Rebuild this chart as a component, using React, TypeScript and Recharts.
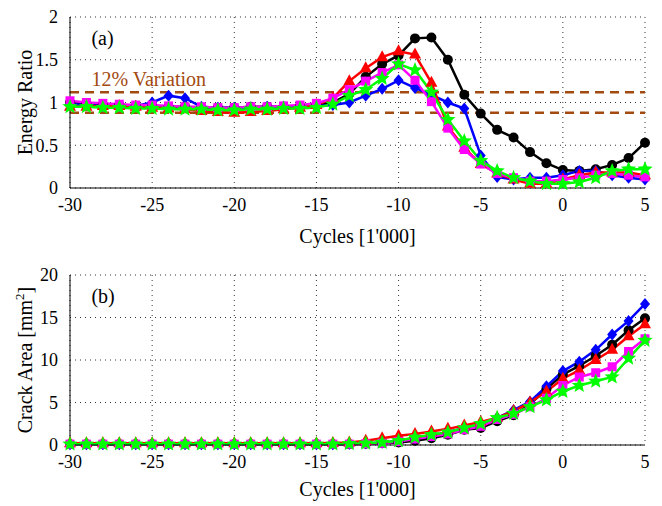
import React from 'react';
import {
  ComposedChart,
  Line,
  XAxis,
  YAxis,
  CartesianGrid,
  ReferenceLine,
  ReferenceDot,
} from 'recharts';

// cycles in thousands, -30 .. 5
const cycles = [
  -30, -29, -28, -27, -26, -25, -24, -23, -22, -21, -20, -19, -18, -17, -16, -15, -14, -13,
  -12, -11, -10, -9, -8, -7, -6, -5, -4, -3, -2, -1, 0, 1, 2, 3, 4, 5,
];
const xTicks = [-30, -25, -20, -15, -10, -5, 0, 5];

const energyBlack = [
  1.0, 0.98, 0.97, 0.97, 0.96, 0.96, 0.95, 0.95, 0.94, 0.94, 0.94, 0.95, 0.95, 0.95, 0.96, 0.97,
  1.0, 1.1, 1.3, 1.45, 1.55, 1.75, 1.76, 1.5, 1.09, 0.87, 0.68, 0.59, 0.42, 0.29, 0.21, 0.2,
  0.22, 0.27, 0.35, 0.53,
];
const energyBlue = [
  0.98, 0.97, 0.96, 0.96, 0.96, 1.0, 1.08, 1.05, 0.95, 0.94, 0.94, 0.94, 0.95, 0.95, 0.95, 0.96,
  0.97, 1.0, 1.08, 1.16, 1.26, 1.17, 1.09, 1.0, 0.93, 0.38, 0.13, 0.1, 0.12, 0.12, 0.15, 0.2,
  0.2, 0.15, 0.12, 0.1,
];
const energyRed = [
  0.95, 0.95, 0.96, 0.96, 0.95, 0.94, 0.93, 0.92, 0.9, 0.89, 0.88, 0.89, 0.9, 0.92, 0.94, 0.97,
  1.05, 1.25, 1.4, 1.53, 1.6, 1.56, 1.23, 0.72, 0.47, 0.28, 0.17, 0.1, 0.05, 0.05, 0.1, 0.15,
  0.18, 0.18, 0.18, 0.15,
];
const energyMagenta = [
  1.02, 1.0, 0.99, 0.98, 0.97, 0.97, 0.96, 0.95, 0.95, 0.94, 0.94, 0.95, 0.95, 0.96, 0.97, 0.99,
  1.05, 1.15, 1.25, 1.35, 1.44, 1.26, 1.01, 0.7, 0.45, 0.28, 0.17, 0.12, 0.08, 0.08, 0.1, 0.12,
  0.15, 0.17, 0.15, 0.13,
];
const energyGreen = [
  0.95, 0.95, 0.94, 0.94, 0.93, 0.93, 0.92, 0.92, 0.92, 0.91, 0.91, 0.92, 0.92, 0.93, 0.93, 0.94,
  0.98, 1.08, 1.15, 1.28, 1.45, 1.38, 1.12, 0.8, 0.55, 0.32, 0.2, 0.12, 0.08, 0.05, 0.05, 0.07,
  0.12, 0.2, 0.22, 0.22,
];

const areaBlack = [
  0.1, 0.1, 0.1, 0.1, 0.1, 0.1, 0.1, 0.1, 0.1, 0.1, 0.1, 0.1, 0.1, 0.1, 0.1, 0.1, 0.1, 0.1,
  0.15, 0.2, 0.3, 0.5, 0.8, 1.2, 1.8, 2.0, 2.8, 3.5, 4.8, 6.6, 8.3, 9.3, 10.5, 11.8, 13.5, 14.9,
];
const areaBlue = [
  0.1, 0.1, 0.1, 0.1, 0.1, 0.1, 0.1, 0.1, 0.1, 0.1, 0.1, 0.1, 0.1, 0.1, 0.1, 0.1, 0.1, 0.15,
  0.2, 0.3, 0.5, 0.8, 1.1, 1.5, 2.0, 2.5, 3.2, 4.1, 5.1, 6.9, 8.7, 9.8, 11.2, 13.0, 14.6, 16.6,
];
const areaRed = [
  0.2, 0.2, 0.2, 0.2, 0.2, 0.2, 0.2, 0.2, 0.2, 0.2, 0.2, 0.2, 0.2, 0.2, 0.2, 0.2, 0.25, 0.3,
  0.5, 0.8, 1.1, 1.3, 1.6, 1.9, 2.3, 2.7, 3.2, 4.0, 5.0, 6.3, 7.8, 8.8, 10.0, 11.2, 12.8, 14.2,
];
const areaMagenta = [
  0.1, 0.1, 0.1, 0.1, 0.1, 0.1, 0.1, 0.1, 0.1, 0.1, 0.1, 0.1, 0.1, 0.1, 0.1, 0.1, 0.1, 0.1,
  0.15, 0.2, 0.4, 0.7, 1.0, 1.3, 1.8, 2.2, 3.0, 3.6, 4.5, 5.5, 7.0, 8.0, 8.5, 9.2, 11.0, 12.5,
];
const areaGreen = [
  0.1, 0.1, 0.1, 0.1, 0.1, 0.1, 0.1, 0.1, 0.1, 0.1, 0.1, 0.1, 0.1, 0.1, 0.1, 0.1, 0.1, 0.15,
  0.2, 0.3, 0.5, 0.9, 1.2, 1.5, 2.0, 2.5, 3.2, 3.7, 4.5, 5.3, 6.3, 7.0, 7.5, 8.0, 10.2, 12.3,
];

const energyRows = cycles.map((x, i) => ({
  x,
  black: energyBlack[i],
  blue: energyBlue[i],
  red: energyRed[i],
  magenta: energyMagenta[i],
  green: energyGreen[i],
}));
const areaRows = cycles.map((x, i) => ({
  x,
  black: areaBlack[i],
  blue: areaBlue[i],
  red: areaRed[i],
  magenta: areaMagenta[i],
  green: areaGreen[i],
}));

const FONT = '"Liberation Serif", "DejaVu Serif", serif';
const BROWN = '#a34a10';

type Shape = 'circle' | 'diamond' | 'triangle' | 'square' | 'star';

const SERIES: { key: string; color: string; shape: Shape }[] = [
  { key: 'black', color: '#000000', shape: 'circle' },
  { key: 'blue', color: '#0000ff', shape: 'diamond' },
  { key: 'red', color: '#ff0000', shape: 'triangle' },
  { key: 'magenta', color: '#ff00ff', shape: 'square' },
  { key: 'green', color: '#00ff00', shape: 'star' },
];

function makeDot(shape: Shape, color: string) {
  return (props: any) => {
    const { cx, cy, index } = props;
    if (cx == null || cy == null) return <g key={index} />;
    let el: React.ReactNode;
    if (shape === 'circle') el = <circle cx={cx} cy={cy} r={5} fill={color} />;
    else if (shape === 'diamond')
      el = <polygon points={`${cx},${cy - 6} ${cx + 5},${cy} ${cx},${cy + 6} ${cx - 5},${cy}`} fill={color} />;
    else if (shape === 'triangle')
      el = <polygon points={`${cx},${cy - 7} ${cx + 6},${cy + 4} ${cx - 6},${cy + 4}`} fill={color} />;
    else if (shape === 'square') el = <rect x={cx - 4.5} y={cy - 4.5} width={9} height={9} fill={color} />;
    else {
      const pts: string[] = [];
      for (let k = 0; k < 10; k++) {
        const r = k % 2 === 0 ? 8 : 3.5;
        const a = -Math.PI / 2 + (k * Math.PI) / 5;
        pts.push(`${cx + r * Math.cos(a)},${cy + r * Math.sin(a)}`);
      }
      el = <polygon points={pts.join(' ')} fill={color} />;
    }
    return <g key={index}>{el}</g>;
  };
}

const tick = { fill: '#000', fontSize: 18, fontFamily: FONT };

function yLabelFor(text: React.ReactNode) {
  return (props: any) => {
    const vb = props.viewBox;
    const cx = 32;
    const cy = vb.y + vb.height / 2;
    return (
      <text x={cx} y={cy} transform={`rotate(-90 ${cx} ${cy})`} textAnchor="middle" fill="#000" fontSize={20} fontFamily={FONT}>
        {text}
      </text>
    );
  };
}

function Panel({
  data,
  yDomain,
  yTicks,
  yLabel,
  tag,
  top,
  bottom,
  children,
}: {
  data: any[];
  yDomain: [number, number];
  yTicks: number[];
  yLabel: any;
  tag: string;
  top: number;
  bottom: number;
  children?: React.ReactNode;
}) {
  return (
    <ComposedChart width={662} height={253} data={data} margin={{ top, right: 17, bottom: 0, left: 0 }}>
      <CartesianGrid stroke="#000" strokeDasharray="1 4" strokeWidth={0.8} />
      <XAxis
        dataKey="x"
        type="number"
        domain={[-30, 5]}
        ticks={xTicks}
        tick={tick}
        tickLine={false}
        axisLine={{ stroke: '#000' }}
        height={bottom}
        tickMargin={4}
        label={{ value: "Cycles [1'000]", position: 'insideBottom', offset: 10, fill: '#000', fontSize: 20, fontFamily: FONT }}
      />
      <XAxis xAxisId="top" dataKey="x" type="number" domain={[-30, 5]} orientation="top" tick={false} tickLine={false} height={0} axisLine={{ stroke: '#000' }} />
      <YAxis
        type="number"
        domain={yDomain}
        ticks={yTicks}
        tick={tick}
        tickLine={false}
        axisLine={{ stroke: '#000' }}
        width={70}
        tickMargin={6}
        label={yLabel}
      />
      <YAxis yAxisId="right" orientation="right" domain={yDomain} tick={false} tickLine={false} width={0} axisLine={{ stroke: '#000' }} />
      {children}
      {SERIES.map((s) => (
        <Line
          key={s.key}
          dataKey={s.key}
          stroke={s.color}
          strokeWidth={2.5}
          dot={makeDot(s.shape, s.color)}
          activeDot={false}
          isAnimationActive={false}
        />
      ))}
      <ReferenceDot
        x={-29}
        y={yDomain[1] * 0.875}
        r={0}
        label={{ value: tag, position: 'right', fill: '#000', fontSize: 20, fontFamily: FONT }}
      />
    </ComposedChart>
  );
}

export default function App() {
  return (
    <div style={{ position: 'absolute', left: 0, top: 0, width: 662, height: 506, background: '#fff' }}>
      <Panel
        data={energyRows}
        yDomain={[0, 2]}
        yTicks={[0, 0.5, 1, 1.5, 2]}
        tag="(a)"
        top={17}
        bottom={65}
        yLabel={yLabelFor('Energy Ratio')}
      >
        <ReferenceLine y={1.12} stroke={BROWN} strokeWidth={2.5} strokeDasharray="9 6" />
        <ReferenceLine y={0.88} stroke={BROWN} strokeWidth={2.5} strokeDasharray="9 6" />
        <ReferenceDot
          x={-29}
          y={1.28}
          r={0}
          label={{ value: '12% Variation', position: 'right', fill: BROWN, fontSize: 20, fontFamily: FONT }}
        />
      </Panel>
      <Panel
        data={areaRows}
        yDomain={[0, 20]}
        yTicks={[0, 5, 10, 15, 20]}
        tag="(b)"
        top={22}
        bottom={61}
        yLabel={yLabelFor(
          <>
            Crack Area [mm
            <tspan dy={-8} fontSize={13}>2</tspan>
            <tspan dy={8}>]</tspan>
          </>
        )}
      />
    </div>
  );
}
